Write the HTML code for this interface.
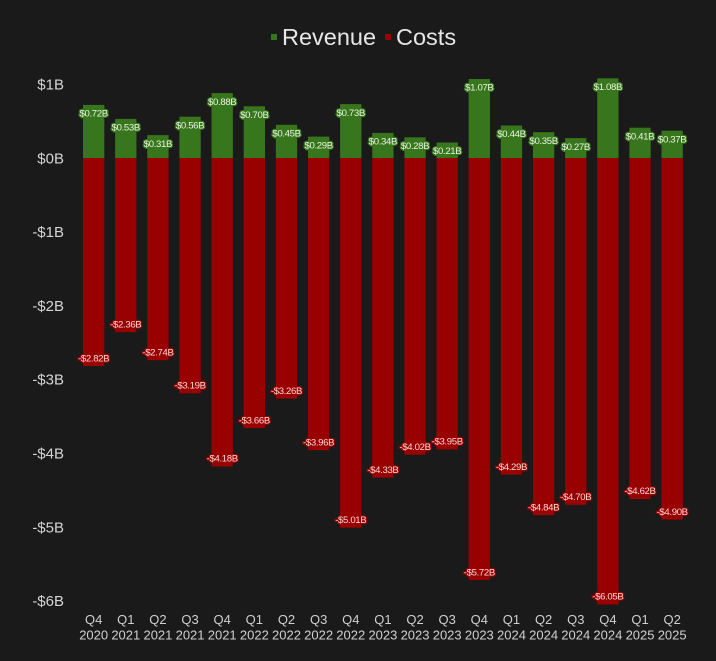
<!DOCTYPE html>
<html><head><meta charset="utf-8"><style>
html,body{margin:0;padding:0;background:#1a1a1a;}
svg{display:block;}
text{font-family:"Liberation Sans",Arial,sans-serif;}
.yl{font-size:15px;fill:#d4d4d4;text-anchor:end;}
.xl{font-size:13px;fill:#cfcfcf;text-anchor:middle;}
.rv{font-size:9.6px;fill:#eaf5e2;text-anchor:middle;stroke:#38761d;stroke-width:2.5;paint-order:stroke;letter-spacing:-0.35px;}
.cv{font-size:9.6px;fill:#ffd6d6;text-anchor:middle;stroke:#990000;stroke-width:2.5;paint-order:stroke;letter-spacing:-0.35px;}
</style></head><body>
<svg width="716" height="661" viewBox="0 0 716 661" xmlns="http://www.w3.org/2000/svg">
<rect width="716" height="661" fill="#1a1a1a"/>
<!-- legend -->
<rect x="271" y="34" width="6" height="6" fill="#38761d"/>
<text x="282" y="45" font-size="23.5" fill="#e6e6e6">Revenue</text>
<rect x="385" y="34" width="6" height="6" fill="#990000"/>
<text x="396" y="45" font-size="23.5" fill="#e6e6e6">Costs</text>
<!-- y labels -->
<text class="yl" x="64" y="89.5">$1B</text>
<text class="yl" x="64" y="163.3">$0B</text>
<text class="yl" x="64" y="237.1">-$1B</text>
<text class="yl" x="64" y="310.9">-$2B</text>
<text class="yl" x="64" y="384.7">-$3B</text>
<text class="yl" x="64" y="458.5">-$4B</text>
<text class="yl" x="64" y="532.3">-$5B</text>
<text class="yl" x="64" y="606.1">-$6B</text>
<!-- bars -->
<g fill="#38761d">
<rect x="83" y="104.9" width="21.3" height="53.1"/>
<rect x="115.14" y="118.9" width="21.3" height="39.1"/>
<rect x="147.28" y="135.1" width="21.3" height="22.9"/>
<rect x="179.42" y="116.7" width="21.3" height="41.3"/>
<rect x="211.56" y="93.1" width="21.3" height="64.9"/>
<rect x="243.7" y="106.3" width="21.3" height="51.7"/>
<rect x="275.84" y="124.8" width="21.3" height="33.2"/>
<rect x="307.98" y="136.6" width="21.3" height="21.4"/>
<rect x="340.12" y="104.1" width="21.3" height="53.9"/>
<rect x="372.26" y="132.9" width="21.3" height="25.1"/>
<rect x="404.4" y="137.3" width="21.3" height="20.7"/>
<rect x="436.54" y="142.5" width="21.3" height="15.5"/>
<rect x="468.68" y="79" width="21.3" height="79"/>
<rect x="500.82" y="125.5" width="21.3" height="32.5"/>
<rect x="532.96" y="132.2" width="21.3" height="25.8"/>
<rect x="565.1" y="138.1" width="21.3" height="19.9"/>
<rect x="597.24" y="78.3" width="21.3" height="79.7"/>
<rect x="629.38" y="127.7" width="21.3" height="30.3"/>
<rect x="661.52" y="130.7" width="21.3" height="27.3"/>
</g>
<g fill="#990000">
<rect x="83" y="158" width="21.3" height="208.1"/>
<rect x="115.14" y="158" width="21.3" height="174.2"/>
<rect x="147.28" y="158" width="21.3" height="202.2"/>
<rect x="179.42" y="158" width="21.3" height="235.4"/>
<rect x="211.56" y="158" width="21.3" height="308.5"/>
<rect x="243.7" y="158" width="21.3" height="270.1"/>
<rect x="275.84" y="158" width="21.3" height="240.6"/>
<rect x="307.98" y="158" width="21.3" height="292.2"/>
<rect x="340.12" y="158" width="21.3" height="369.7"/>
<rect x="372.26" y="158" width="21.3" height="319.6"/>
<rect x="404.4" y="158" width="21.3" height="296.7"/>
<rect x="436.54" y="158" width="21.3" height="291.5"/>
<rect x="468.68" y="158" width="21.3" height="422.1"/>
<rect x="500.82" y="158" width="21.3" height="316.6"/>
<rect x="532.96" y="158" width="21.3" height="357.2"/>
<rect x="565.1" y="158" width="21.3" height="346.9"/>
<rect x="597.24" y="158" width="21.3" height="446.5"/>
<rect x="629.38" y="158" width="21.3" height="341"/>
<rect x="661.52" y="158" width="21.3" height="361.6"/>
</g>
<!-- revenue labels -->
<text class="rv" x="93.65" y="116.6">$0.72B</text>
<text class="rv" x="125.79" y="130.6">$0.53B</text>
<text class="rv" x="157.93" y="146.8">$0.31B</text>
<text class="rv" x="190.07" y="128.4">$0.56B</text>
<text class="rv" x="222.21" y="104.8">$0.88B</text>
<text class="rv" x="254.35" y="118">$0.70B</text>
<text class="rv" x="286.49" y="136.5">$0.45B</text>
<text class="rv" x="318.63" y="148.3">$0.29B</text>
<text class="rv" x="350.77" y="115.8">$0.73B</text>
<text class="rv" x="382.91" y="144.6">$0.34B</text>
<text class="rv" x="415.05" y="149">$0.28B</text>
<text class="rv" x="447.19" y="154.2">$0.21B</text>
<text class="rv" x="479.33" y="90.7">$1.07B</text>
<text class="rv" x="511.47" y="137.2">$0.44B</text>
<text class="rv" x="543.61" y="143.9">$0.35B</text>
<text class="rv" x="575.75" y="149.8">$0.27B</text>
<text class="rv" x="607.89" y="90">$1.08B</text>
<text class="rv" x="640.03" y="139.4">$0.41B</text>
<text class="rv" x="672.17" y="142.4">$0.37B</text>
<!-- cost labels -->
<text class="cv" x="93.65" y="361.3">-$2.82B</text>
<text class="cv" x="125.79" y="327.4">-$2.36B</text>
<text class="cv" x="157.93" y="355.4">-$2.74B</text>
<text class="cv" x="190.07" y="388.6">-$3.19B</text>
<text class="cv" x="222.21" y="461.7">-$4.18B</text>
<text class="cv" x="254.35" y="423.3">-$3.66B</text>
<text class="cv" x="286.49" y="393.8">-$3.26B</text>
<text class="cv" x="318.63" y="445.4">-$3.96B</text>
<text class="cv" x="350.77" y="522.9">-$5.01B</text>
<text class="cv" x="382.91" y="472.8">-$4.33B</text>
<text class="cv" x="415.05" y="449.9">-$4.02B</text>
<text class="cv" x="447.19" y="444.7">-$3.95B</text>
<text class="cv" x="479.33" y="575.3">-$5.72B</text>
<text class="cv" x="511.47" y="469.8">-$4.29B</text>
<text class="cv" x="543.61" y="510.4">-$4.84B</text>
<text class="cv" x="575.75" y="500.1">-$4.70B</text>
<text class="cv" x="607.89" y="599.7">-$6.05B</text>
<text class="cv" x="640.03" y="494.2">-$4.62B</text>
<text class="cv" x="672.17" y="514.8">-$4.90B</text>
<!-- x labels -->
<g class="xl">
<text class="xl" x="93.65" y="624">Q4</text><text class="xl" x="93.65" y="639.5">2020</text>
<text class="xl" x="125.79" y="624">Q1</text><text class="xl" x="125.79" y="639.5">2021</text>
<text class="xl" x="157.93" y="624">Q2</text><text class="xl" x="157.93" y="639.5">2021</text>
<text class="xl" x="190.07" y="624">Q3</text><text class="xl" x="190.07" y="639.5">2021</text>
<text class="xl" x="222.21" y="624">Q4</text><text class="xl" x="222.21" y="639.5">2021</text>
<text class="xl" x="254.35" y="624">Q1</text><text class="xl" x="254.35" y="639.5">2022</text>
<text class="xl" x="286.49" y="624">Q2</text><text class="xl" x="286.49" y="639.5">2022</text>
<text class="xl" x="318.63" y="624">Q3</text><text class="xl" x="318.63" y="639.5">2022</text>
<text class="xl" x="350.77" y="624">Q4</text><text class="xl" x="350.77" y="639.5">2022</text>
<text class="xl" x="382.91" y="624">Q1</text><text class="xl" x="382.91" y="639.5">2023</text>
<text class="xl" x="415.05" y="624">Q2</text><text class="xl" x="415.05" y="639.5">2023</text>
<text class="xl" x="447.19" y="624">Q3</text><text class="xl" x="447.19" y="639.5">2023</text>
<text class="xl" x="479.33" y="624">Q4</text><text class="xl" x="479.33" y="639.5">2023</text>
<text class="xl" x="511.47" y="624">Q1</text><text class="xl" x="511.47" y="639.5">2024</text>
<text class="xl" x="543.61" y="624">Q2</text><text class="xl" x="543.61" y="639.5">2024</text>
<text class="xl" x="575.75" y="624">Q3</text><text class="xl" x="575.75" y="639.5">2024</text>
<text class="xl" x="607.89" y="624">Q4</text><text class="xl" x="607.89" y="639.5">2024</text>
<text class="xl" x="640.03" y="624">Q1</text><text class="xl" x="640.03" y="639.5">2025</text>
<text class="xl" x="672.17" y="624">Q2</text><text class="xl" x="672.17" y="639.5">2025</text>
</g>
</svg>
</body></html>
